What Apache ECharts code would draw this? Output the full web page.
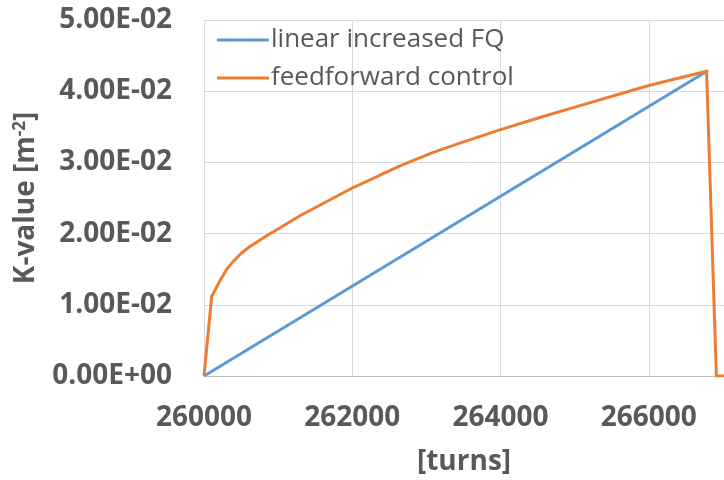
<!DOCTYPE html>
<html>
<head>
<meta charset="utf-8">
<script src="https://cdn.jsdelivr.net/npm/echarts@6/dist/echarts.min.js"></script>
<style>
html, body { margin: 0; padding: 0; background: #fff; }
#chartK { width: 724px; height: 480px; }
</style>
</head>
<body>
<div id="chartK"></div>
<script>
// data
var seriesNames = ['linear increased FQ', 'feedforward control'];

var turnsLin = [260000, 266800];
var kLin = [0, 0.0429];

var turnsFF = [260000, 260104, 260126, 260171, 260216, 260300, 260395, 260500, 260620, 260846, 261295, 262000,
	262643, 263093, 263452, 264000, 264531, 264980, 266000, 266780, 266800, 266912, 267300];
var kFF = [0, 0.0112, 0.0116, 0.0125, 0.0134, 0.0149, 0.0161, 0.0172, 0.0182, 0.0197, 0.0225, 0.0264,
	0.0295, 0.0314, 0.0327, 0.0346, 0.0363, 0.0377, 0.0408, 0.0428, 0.0429, 0, 0];

var xTicks = { min: 260000, max: 268000, step: 2000 };
var yTicks = { min: 0, max: 0.05, step: 0.01 };

var pairs = function(xs, ys){
	var out = [];
	for (var i = 0; i < xs.length; i++) {
		out.push([xs[i], ys[i]]);
	}
	return out;
};

var sciLabel = function(v){
	var parts = Number(v).toExponential(2).split('e');
	var exp = parseInt(parts[1], 10);
	var sign = exp < 0 ? '-' : '+';
	var abs = Math.abs(exp);
	return parts[0] + 'E' + sign + (abs < 10 ? '0' + abs : abs);
};

var textColor = '#595959';
var fontFam = '"Open Sans", "Liberation Sans", sans-serif';

var myChart = echarts.init(document.getElementById('chartK'));
var option = {
	animation: false,
	color: ['#5B9BD5', '#ED7D31'],
	grid: { left: 204, top: 20, bottom: 104, right: -73, outerBoundsMode: 'none', containLabel: false },
	legend: {
		orient: 'vertical',
		left: 212,
		top: 20,
		icon: 'rect',
		itemWidth: 52,
		itemHeight: 3,
		itemGap: 8,
		data: seriesNames,
		textStyle: { color: textColor, fontSize: 26, fontFamily: fontFam, lineHeight: 30, padding: [0, 0, 0, -3] }
	},
	xAxis: {
		type: 'value',
		min: xTicks.min,
		max: xTicks.max,
		interval: xTicks.step,
		name: '[turns]',
		nameLocation: 'middle',
		nameGap: 72,
		nameTextStyle: { color: textColor, fontSize: 28, fontWeight: 'bold', fontFamily: fontFam, padding: [0, 73, 0, 0] },
		axisLine: { show: true, lineStyle: { color: '#BFBFBF', width: 1 } },
		axisTick: { show: false },
		axisLabel: { color: textColor, fontSize: 28, fontWeight: 'bold', fontFamily: fontFam, margin: 28,
			formatter: function(v){ return String(v); } },
		splitLine: { show: true, lineStyle: { color: '#D9D9D9', width: 1 } }
	},
	yAxis: {
		type: 'value',
		min: yTicks.min,
		max: yTicks.max,
		interval: yTicks.step,
		name: 'K-value [m{sup|-2}]',
		nameLocation: 'middle',
		nameGap: 163,
		nameTextStyle: {
			color: textColor, fontSize: 28, fontWeight: 'bold', fontFamily: fontFam,
			rich: {
				sup: { color: textColor, fontSize: 17, fontWeight: 'bold', fontFamily: fontFam, verticalAlign: 'bottom', padding: [0, 0, 12, 0] }
			}
		},
		axisLine: { show: false },
		axisTick: { show: false },
		axisLabel: { color: textColor, fontSize: 28, fontWeight: 'bold', fontFamily: fontFam, margin: 32, formatter: sciLabel },
		splitLine: { show: true, lineStyle: { color: '#D9D9D9', width: 1 } }
	},
	series: [
		{
			name: seriesNames[0],
			type: 'line',
			symbol: 'none',
			lineStyle: { width: 3 },
			data: pairs(turnsLin, kLin)
		},
		{
			name: seriesNames[1],
			type: 'line',
			symbol: 'none',
			lineStyle: { width: 3, join: 'round' },
			data: pairs(turnsFF, kFF)
		}
	]
};
myChart.setOption(option);
</script>
</body>
</html>
